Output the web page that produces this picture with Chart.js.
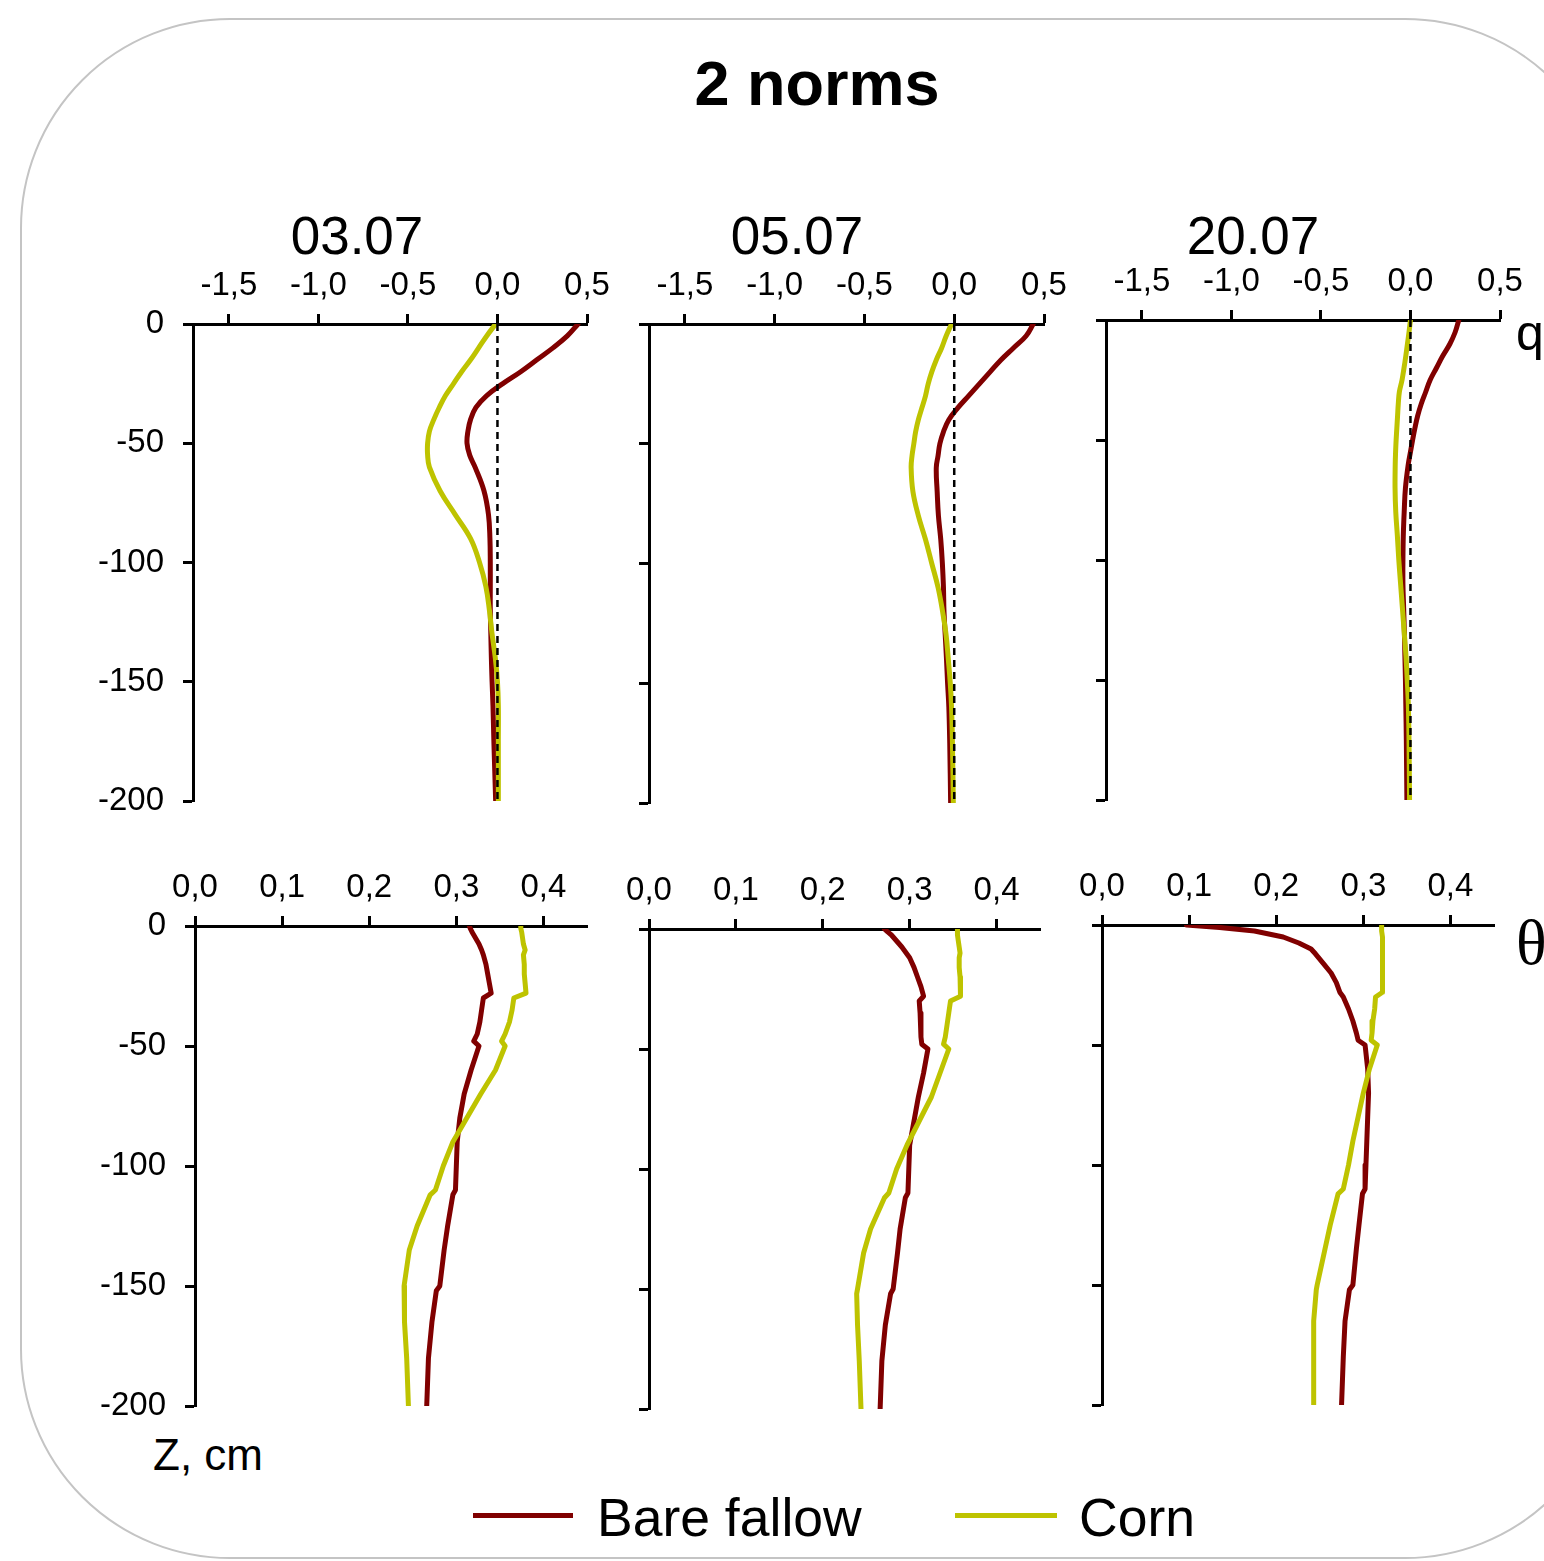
<!DOCTYPE html>
<html lang="en">
<head>
<meta charset="UTF-8">
<title>2 norms</title>
<script src="https://cdn.jsdelivr.net/npm/chart.js@4.4.0/dist/chart.umd.min.js"></script>
<style>
  body { margin: 0; background: #fff; }
  #page { position: relative; width: 1544px; height: 1561px; overflow: hidden; background: #fff; }
  #frame {
    position: absolute; left: 20px; top: 18px; width: 1595px; height: 1541px;
    border: 2px solid #c4c4c4; border-radius: 210px; box-sizing: border-box;
  }
  canvas { position: absolute; }
  .txt {
    position: absolute; font-family: 'Liberation Sans', Arial, sans-serif;
    line-height: 1; white-space: nowrap; color: #000;
  }
  .sym { font-family: 'Liberation Serif', 'Times New Roman', serif; }
  .key { position: absolute; height: 0; border-top: 5px solid; }
</style>
</head>
<body>
<div id="page">
  <div id="frame"></div>
  <div class="txt" style="left:817px; top:52px; font-size:63px; font-weight:bold; transform:translateX(-50%)">2 norms</div>
  <div class="txt" style="left:357px; top:209px; font-size:53px; transform:translateX(-50%)">03.07</div>
  <div class="txt" style="left:797px; top:209px; font-size:53px; transform:translateX(-50%)">05.07</div>
  <div class="txt" style="left:1253px; top:209px; font-size:53px; transform:translateX(-50%)">20.07</div>
  <div class="txt" style="left:1516px; top:308px; font-size:50px">q</div>
  <div class="txt sym" style="left:1516px; top:911px; font-size:64px">θ</div>
  <div class="txt" style="left:153px; top:1433px; font-size:44px">Z, cm</div>
  <div class="key" style="left:473px; top:1513px; width:100px; border-color:#800000"></div>
  <div class="txt" style="left:597px; top:1491px; font-size:53.5px">Bare fallow</div>
  <div class="key" style="left:955px; top:1513px; width:102px; border-color:#bec300"></div>
  <div class="txt" style="left:1079px; top:1491px; font-size:53.5px">Corn</div>
</div>
<script>
// axis ticks
const depthTicks = [0, -50, -100, -150, -200];
const qTicks = [-1.5, -1.0, -0.5, 0.0, 0.5];
const thetaTicks = [0.0, 0.1, 0.2, 0.3, 0.4];

// depth grid for the flux (q) profiles, cm
const qDepth = [0, -5, -10, -15, -20, -25, -30, -35, -40, -45, -50, -55, -60,
  -70, -80, -90, -100, -110, -120, -130, -140, -150, -160, -175, -200];

const q0307Fallow = [0.45, 0.39, 0.31, 0.22, 0.13, 0.03, -0.06, -0.12, -0.15, -0.165, -0.17, -0.155, -0.125,
  -0.075, -0.05, -0.042, -0.04, -0.04, -0.04, -0.037, -0.034, -0.03, -0.025, -0.02, -0.01];
const q0307Corn = [-0.01, -0.06, -0.105, -0.15, -0.2, -0.245, -0.29, -0.325, -0.355, -0.38, -0.39, -0.39, -0.38,
  -0.32, -0.235, -0.15, -0.1, -0.065, -0.045, -0.03, -0.012, 0.0, 0.005, 0.005, 0.005];

const q0507Fallow = [0.44, 0.4, 0.33, 0.26, 0.2, 0.14, 0.08, 0.02, -0.03, -0.06, -0.08, -0.09, -0.1,
  -0.095, -0.088, -0.075, -0.066, -0.06, -0.057, -0.05, -0.043, -0.037, -0.03, -0.025, -0.02];
const q0507Corn = [-0.015, -0.045, -0.07, -0.1, -0.125, -0.145, -0.16, -0.18, -0.2, -0.215, -0.225, -0.235, -0.24,
  -0.23, -0.2, -0.16, -0.125, -0.09, -0.065, -0.045, -0.033, -0.022, -0.015, -0.01, -0.005];

const q2007Fallow = [0.27, 0.25, 0.22, 0.18, 0.145, 0.11, 0.085, 0.06, 0.04, 0.025, 0.012, 0.0, -0.012,
  -0.028, -0.035, -0.04, -0.042, -0.042, -0.038, -0.034, -0.031, -0.028, -0.026, -0.023, -0.02];
const q2007Corn = [0.0, -0.008, -0.017, -0.026, -0.036, -0.047, -0.062, -0.068, -0.072, -0.076, -0.08, -0.083, -0.085,
  -0.086, -0.082, -0.073, -0.065, -0.055, -0.045, -0.035, -0.025, -0.018, -0.012, -0.008, -0.005];

// depth grid for the water content (theta) profiles, cm
const thetaDepth = [0, -1, -2.5, -5, -7.5, -10, -12, -16, -20, -24, -28, -30, -35, -40, -45, -48, -50,
  -60, -70, -80, -90, -100, -110, -112, -125, -135, -150, -152, -165, -180, -200];

const t0307Fallow = [0.315, 0.316, 0.318, 0.322, 0.326, 0.329, 0.331, 0.334, 0.336, 0.338, 0.34, 0.331, 0.329, 0.327, 0.324, 0.32, 0.326,
  0.317, 0.309, 0.304, 0.301, 0.3, 0.299, 0.296, 0.29, 0.286, 0.281, 0.277, 0.272, 0.268, 0.266];
const t0307Corn = [0.374, 0.374, 0.375, 0.376, 0.377, 0.379, 0.377, 0.378, 0.378, 0.379, 0.38, 0.366, 0.364, 0.361, 0.356, 0.352, 0.356,
  0.345, 0.328, 0.312, 0.296, 0.285, 0.276, 0.27, 0.255, 0.246, 0.24, 0.24, 0.241, 0.243, 0.245];

const t0507Fallow = [0.271, 0.274, 0.279, 0.285, 0.291, 0.296, 0.3, 0.305, 0.309, 0.313, 0.316, 0.311, 0.312, 0.313, 0.313, 0.314, 0.321,
  0.316, 0.31, 0.305, 0.3, 0.299, 0.298, 0.295, 0.289, 0.286, 0.281, 0.278, 0.272, 0.268, 0.266];
const t0507Corn = [0.355, 0.355, 0.355, 0.356, 0.357, 0.358, 0.357, 0.357, 0.358, 0.358, 0.359, 0.347, 0.345, 0.343, 0.341, 0.339, 0.345,
  0.335, 0.325, 0.311, 0.297, 0.285, 0.276, 0.271, 0.255, 0.247, 0.24, 0.239, 0.24, 0.242, 0.244];

const t2007Fallow = [0.097, 0.135, 0.175, 0.208, 0.226, 0.24, 0.245, 0.254, 0.263, 0.269, 0.273, 0.277, 0.283, 0.288, 0.292, 0.294, 0.302,
  0.305, 0.306, 0.305, 0.304, 0.303, 0.302, 0.299, 0.295, 0.292, 0.288, 0.284, 0.279, 0.277, 0.275];
const t2007Corn = [0.321, 0.321, 0.321, 0.322, 0.322, 0.322, 0.322, 0.322, 0.322, 0.322, 0.322, 0.314, 0.313, 0.311, 0.31, 0.309, 0.316,
  0.307, 0.3, 0.294, 0.288, 0.283, 0.277, 0.271, 0.262, 0.256, 0.247, 0.246, 0.243, 0.243, 0.243];

const FALLOW = '#800000';
const CORN = '#bec300';
const FONT = "'Liberation Sans', Arial, sans-serif";
// fixed axis box sizes so the plot area lands where it should on the page
const Y_W = 110, X_H = 70, PAD_R = 45, PAD_B = 40;

Chart.defaults.color = '#000';
Chart.defaults.font.family = FONT;

const toPts = (xs, ys) => xs.map((v, i) => ({ x: v, y: ys[i] }));
const comma = v => v.toFixed(1).replace('.', ',');

// area = plot area in page pixels [left, top, right, bottom]
const panels = [
  { area: [193, 324, 587, 801],  x: [-1.7, 0.5],  ticks: qTicks, depth: qDepth, fallow: q0307Fallow, corn: q0307Corn, smooth: true, yLabels: true },
  { area: [649, 324, 1044, 803], x: [-1.7, 0.5],  ticks: qTicks, depth: qDepth, fallow: q0507Fallow, corn: q0507Corn, smooth: true, yLabels: false },
  { area: [1106, 320, 1500, 800], x: [-1.7, 0.5], ticks: qTicks, depth: qDepth, fallow: q2007Fallow, corn: q2007Corn, smooth: true, yLabels: false },
  { area: [195, 926, 587, 1406], x: [0, 0.45], ticks: thetaTicks, depth: thetaDepth, fallow: t0307Fallow, corn: t0307Corn, smooth: false, yLabels: true },
  { area: [649, 929, 1040, 1409], x: [0, 0.45], ticks: thetaTicks, depth: thetaDepth, fallow: t0507Fallow, corn: t0507Corn, smooth: false, yLabels: false },
  { area: [1102, 925, 1494, 1405], x: [0, 0.45], ticks: thetaTicks, depth: thetaDepth, fallow: t2007Fallow, corn: t2007Corn, smooth: false, yLabels: false }
];

const axisLook = {
  grid: { drawOnChartArea: false, drawTicks: true, tickLength: 10, tickWidth: 3, tickColor: '#000', color: '#000' },
  border: { display: true, color: '#000', width: 3 }
};

panels.forEach(p => {
  const [l, t, r, b] = p.area;
  const cv = document.createElement('canvas');
  cv.width = Y_W + (r - l) + PAD_R;
  cv.height = X_H + (b - t) + PAD_B;
  cv.style.left = (l - Y_W) + 'px';
  cv.style.top = (t - X_H) + 'px';
  document.getElementById('page').appendChild(cv);

  const datasets = [];
  if (p.smooth) {
    // zero-flux reference line
    datasets.push({
      data: [{ x: 0, y: 0 }, { x: 0, y: -200 }],
      borderColor: '#000', borderWidth: 2.5, borderDash: [7, 5], pointRadius: 0, showLine: true
    });
  }
  datasets.push({
    label: 'Corn', data: toPts(p.corn, p.depth), borderColor: CORN, borderWidth: 5,
    pointRadius: 0, showLine: true, tension: p.smooth ? 0.4 : 0, borderJoinStyle: 'round', borderCapStyle: 'round'
  });
  datasets.push({
    label: 'Bare fallow', data: toPts(p.fallow, p.depth), borderColor: FALLOW, borderWidth: 5,
    pointRadius: 0, showLine: true, tension: p.smooth ? 0.4 : 0, borderJoinStyle: 'round', borderCapStyle: 'round'
  });

  new Chart(cv, {
    type: 'scatter',
    data: { datasets },
    options: {
      responsive: false,
      animation: false,
      layout: { padding: { left: 0, top: 0, right: PAD_R, bottom: PAD_B } },
      plugins: { legend: { display: false }, tooltip: { enabled: false } },
      scales: {
        x: {
          type: 'linear', position: 'top', min: p.x[0], max: p.x[1],
          afterBuildTicks: s => { s.ticks = p.ticks.map(v => ({ value: v })); },
          afterFit: s => { s.height = X_H; },
          ticks: { font: { size: 33, lineHeight: 1 }, padding: 12, maxRotation: 0, callback: v => comma(v) },
          ...axisLook
        },
        y: {
          type: 'linear', min: -200, max: 0,
          afterBuildTicks: s => { s.ticks = depthTicks.map(v => ({ value: v })); },
          afterFit: s => { s.width = Y_W; },
          ticks: { font: { size: 33, lineHeight: 1 }, padding: 19, callback: v => p.yLabels ? String(v) : '' },
          ...axisLook
        }
      }
    }
  });
});
</script>
</body>
</html>
